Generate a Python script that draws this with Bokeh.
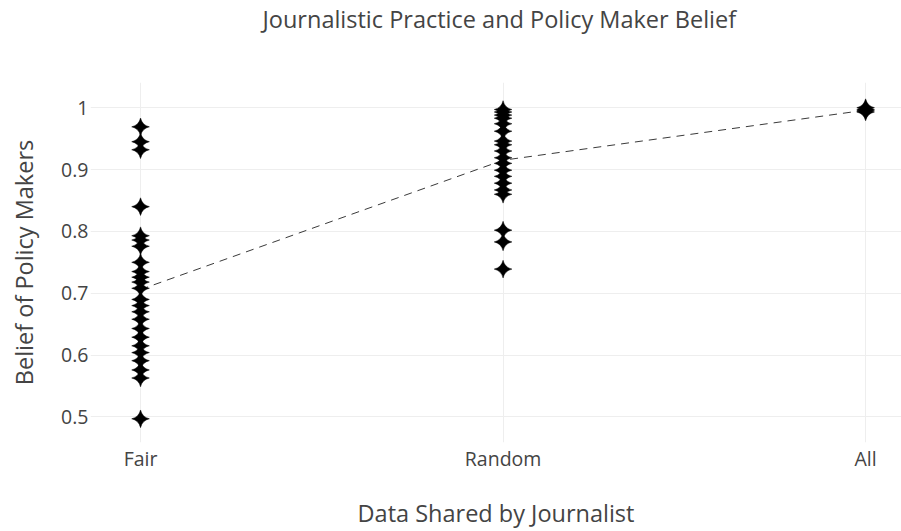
from bokeh.plotting import figure
from bokeh.models import Range1d, FixedTicker, ColumnDataSource, LinearAxis
from bokeh.embed import file_html
from bokeh.resources import INLINE

categories = ["Fair", "Random", "All"]

fair_beliefs = [0.969, 0.945, 0.932, 0.840, 0.793, 0.786, 0.776, 0.750,
                0.735, 0.726, 0.718, 0.708, 0.690, 0.680, 0.670, 0.658,
                0.643, 0.629, 0.615, 0.604, 0.591, 0.576, 0.563, 0.497]
random_beliefs = [0.997, 0.993, 0.988, 0.983, 0.974, 0.962, 0.946, 0.940,
                  0.930, 0.919, 0.910, 0.899, 0.889, 0.878, 0.867, 0.860,
                  0.802, 0.783, 0.739]
all_beliefs = [1.000, 0.997, 0.995, 0.993]

mean_beliefs = [0.706, 0.915, 0.996]

y_ticks = [0.5, 0.6, 0.7, 0.8, 0.9, 1.0]
y_tick_labels = ["0.5", "0.6", "0.7", "0.8", "0.9", "1"]

chart_title = "Journalistic Practice and Policy Maker Belief"
x_title = "Data Shared by Journalist"
y_title = "Belief of Policy Makers"

FONT = "Open Sans"
TXT = "#444444"

p = figure(width=901, height=531, output_backend="svg", toolbar_location=None,
           x_range=Range1d(-0.138, 2.099), y_range=Range1d(0.4587, 1.0407),
           min_border_left=90, min_border_right=0, min_border_top=82,
           min_border_bottom=87, title=chart_title)
p.outline_line_color = None
p.background_fill_color = "white"
p.border_fill_color = "white"

p.title.text_font = FONT
p.title.text_font_size = "23.5px"
p.title.text_font_style = "normal"
p.title.text_color = TXT
p.title.align = "left"
p.title.offset = 172
p.title.standoff = 0

xaxis = p.below[0]
yaxis = p.left[0]

# invisible axis above the frame: only reserves room between title and frame
gap_axis = LinearAxis(ticker=FixedTicker(ticks=[1]), axis_line_color=None,
                      major_tick_line_color=None, minor_tick_line_color=None,
                      major_tick_out=48, major_tick_in=0, minor_tick_out=0,
                      minor_tick_in=0, major_label_standoff=0,
                      major_label_text_font_size="1px",
                      major_label_overrides={1: ""})
p.add_layout(gap_axis, "above")

xs, ys = [], []
for name, vals in zip(categories, [fair_beliefs, random_beliefs, all_beliefs]):
    for v in vals:
        xs.append(categories.index(name))
        ys.append(v)

mean_x = list(range(len(categories)))
p.line(mean_x, mean_beliefs, line_color="#3a3a3a", line_width=1, line_dash="8 6")

src = ColumnDataSource(dict(x=xs, y=ys))
p.scatter("x", "y", source=src, marker="square_pin", size=12.5, angle=0.7853981634,
          fill_color="#000000", line_color="#000000", line_width=0.5)

for ax in (xaxis, yaxis):
    ax.axis_line_color = None
    ax.major_tick_line_color = None
    ax.minor_tick_line_color = None
    ax.major_tick_out = 0
    ax.major_tick_in = 0
    ax.minor_tick_out = 0
    ax.minor_tick_in = 0
    ax.major_label_text_font = FONT
    ax.major_label_text_font_size = "19.5px"
    ax.major_label_text_color = TXT
    ax.axis_label_text_font = FONT
    ax.axis_label_text_font_size = "23.5px"
    ax.axis_label_text_font_style = "normal"
    ax.axis_label_text_color = TXT

xaxis.ticker = FixedTicker(ticks=mean_x)
xaxis.major_label_overrides = {i: c for i, c in enumerate(categories)}
xaxis.axis_label = x_title
xaxis.major_label_standoff = 2
xaxis.axis_label_standoff = 22

yaxis.ticker = FixedTicker(ticks=y_ticks)
yaxis.major_label_overrides = {t: l for t, l in zip(y_ticks, y_tick_labels)}
yaxis.axis_label = y_title
yaxis.major_label_standoff = 2
yaxis.axis_label_standoff = 18

p.xgrid.grid_line_color = "#eeeeee"
p.ygrid.grid_line_color = "#eeeeee"
p.xgrid.ticker = FixedTicker(ticks=mean_x)
p.ygrid.ticker = FixedTicker(ticks=y_ticks)

open("out.html", "w").write(file_html(p, INLINE))
